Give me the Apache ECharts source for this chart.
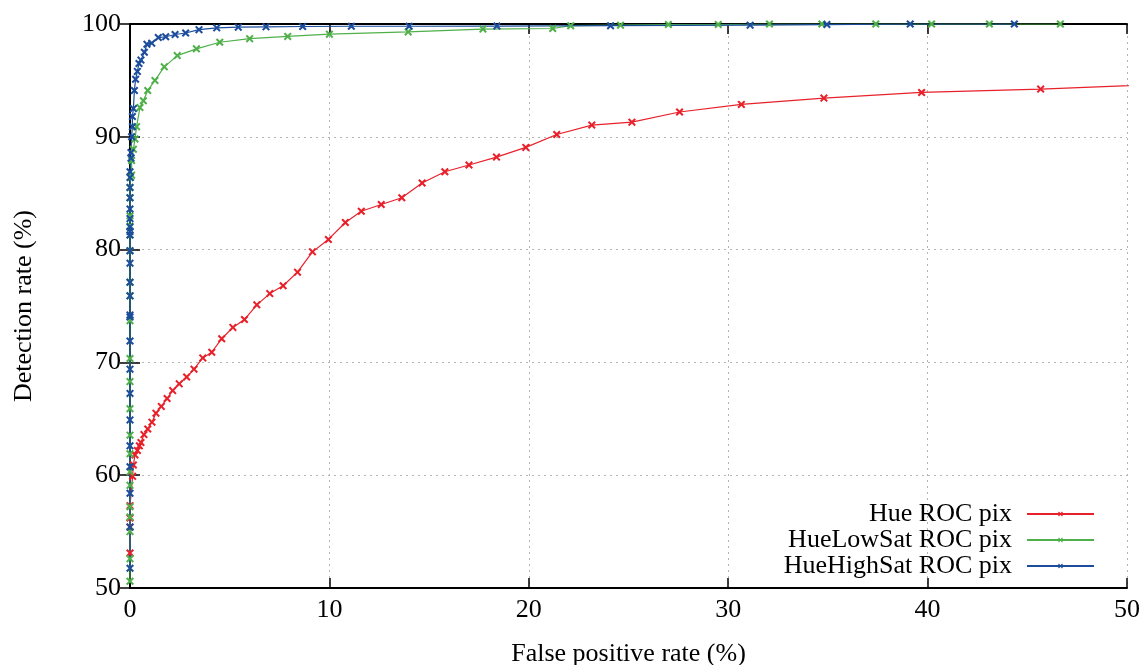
<!DOCTYPE html>
<html>
<head>
<meta charset="utf-8">
<script src="https://cdn.jsdelivr.net/npm/echarts@6/dist/echarts.min.js"></script>
<style>html,body{margin:0;padding:0;background:#fff}#c{width:1145px;height:665px}</style>
</head>
<body>
<div id="c"></div>
<script>
// Data: [false positive rate (%), detection rate (%)]
const seriesNames = ['Hue ROC pix', 'HueLowSat ROC pix', 'HueHighSat ROC pix'];
const xTicks = [0, 10, 20, 30, 40, 50];
const yTicks = [50, 60, 70, 80, 90, 100];

const hue = [
  [0,53.1],[0,55.4],[0,56.2],[0,57.3],[0.13,59.9],[0.17,60.9],[0.25,61.8],[0.37,62.2],[0.47,62.6],
  [0.55,62.9],[0.7,63.6],[0.89,64.1],[1.1,64.7],[1.3,65.5],[1.57,66.1],[1.86,66.8],[2.14,67.5],
  [2.47,68.1],[2.84,68.7],[3.21,69.4],[3.65,70.4],[4.1,70.9],[4.6,72.1],[5.16,73.1],[5.74,73.8],
  [6.36,75.1],[7.01,76.1],[7.68,76.8],[8.4,78.0],[9.15,79.8],[9.95,80.9],[10.8,82.4],[11.6,83.4],
  [12.6,84.0],[13.63,84.6],[14.65,85.9],[15.79,86.9],[17.0,87.5],[18.38,88.2],[19.85,89.06],
  [21.4,90.2],[23.16,91.04],[25.17,91.3],[27.56,92.2],[30.66,92.87],[34.8,93.43],[39.7,93.93],
  [45.67,94.23],[56,94.95]
];

const hueLowSat = [
  [0,50.6],[0,52.6],[0,55.0],[0,56.3],[0,57.2],[0,59.1],[0,60.3],[0,61.9],[0,63.55],[0,65.9],
  [0,68.3],[0,70.35],[0,73.7],[0,75.9],[0,77.1],[0,79.9],[0,81.3],[0,82.1],[0,83.0],[0,84.6],
  [0,85.5],[0.03,86.4],[0.08,86.6],[0.08,87.9],[0.17,88.9],[0.25,89.8],[0.33,90.9],[0.5,92.6],
  [0.67,93.2],[0.89,94.1],[1.25,95.0],[1.72,96.2],[2.37,97.2],[3.33,97.8],[4.5,98.38],[6.0,98.7],
  [7.91,98.9],[10.0,99.1],[13.95,99.3],[17.7,99.55],[21.2,99.6],[22.1,99.85],[24.6,99.9],
  [27.0,99.95],[29.5,99.95],[32.07,100],[34.7,100],[37.4,100],[40.2,100],[43.1,100],[46.66,100]
];

const hueHighSat = [
  [0,51.75],[0,55.4],[0,58.4],[0,60.75],[0,62.6],[0,64.9],[0,67.25],[0,69.4],[0,71.9],[0,74.03],
  [0,74.2],[0,75.9],[0,77.1],[0,78.8],[0,79.9],[0,81.3],[0,81.6],[0,82.0],[0,82.75],[0,83.6],
  [0,84.6],[0,85.5],[0,86.4],[0,86.9],[0.05,88.1],[0.05,88.6],[0.08,90.0],[0.12,90.9],[0.12,91.8],
  [0.17,92.5],[0.22,94.1],[0.28,95.1],[0.37,95.8],[0.45,96.5],[0.55,96.8],[0.72,97.5],[0.85,98.2],
  [1.09,98.3],[1.42,98.8],[1.79,98.87],[2.26,99.07],[2.79,99.2],[3.46,99.5],[4.35,99.66],
  [5.43,99.72],[6.82,99.75],[8.66,99.78],[11.1,99.8],[14.0,99.8],[18.4,99.82],[24.1,99.85],
  [31.1,99.9],[34.95,99.95],[39.13,100],[44.35,100]
];

const colors = ['#e8202a', '#4fb04a', '#1c4d9c'];
const FONT = '"Liberation Serif", "Times New Roman", "DejaVu Serif", serif';
const XSYM = 'path://M0,1.8L1.8,0L5,3.2L8.2,0L10,1.8L6.8,5L10,8.2L8.2,10L5,6.8L1.8,10L0,8.2L3.2,5Z';

const chart = echarts.init(document.getElementById('c'), null, {renderer: 'canvas'});

const axisLine = {show: true, lineStyle: {color: '#000', width: 2}};
const tick = {show: true, inside: true, length: 10, lineStyle: {color: '#000', width: 1.5}};

function mkSeries(name, data, color) {
  return {
    name: name, type: 'line', data: data, xAxisIndex: 0, yAxisIndex: 0,
    symbol: XSYM, symbolSize: 8, showSymbol: true, clip: true,
    lineStyle: {color: color, width: 1.2},
    itemStyle: {color: color},
    animation: false, z: 3
  };
}

function mkLegend(name, top) {
  return {
    data: [name], right: 50, top: top, orient: 'horizontal', align: 'right',
    padding: 0, itemWidth: 67, itemHeight: 6, itemGap: 0,
    textStyle: {fontFamily: FONT, fontSize: 26, color: '#000', lineHeight: 26, padding: [0, 10, 0, 0]}
  };
}

chart.setOption({
  animation: false,
  backgroundColor: '#fff',
  color: colors,
  grid: {left: 130, right: 18, top: 24, bottom: 77, show: false, containLabel: false, outerBoundsMode: 'none'},
  legend: [mkLegend(seriesNames[0], 501), mkLegend(seriesNames[1], 527), mkLegend(seriesNames[2], 553)],
  xAxis: [
    {
      type: 'value', min: xTicks[0], max: xTicks[xTicks.length - 1], interval: 10, position: 'bottom',
      name: 'False positive rate (%)', nameLocation: 'middle', nameGap: 53,
      nameTextStyle: {fontFamily: FONT, fontSize: 26, color: '#000'},
      axisLine: axisLine, axisTick: tick,
      axisLabel: {fontFamily: FONT, fontSize: 26, color: '#000', margin: 9},
      splitLine: {show: true, lineStyle: {color: '#b4b4b4', type: [2, 4], width: 1}}
    },
    {
      type: 'value', min: xTicks[0], max: xTicks[xTicks.length - 1], interval: 10, position: 'top',
      axisLine: axisLine, axisTick: tick, axisLabel: {show: false}, splitLine: {show: false}
    }
  ],
  yAxis: [
    {
      type: 'value', min: yTicks[0], max: yTicks[yTicks.length - 1], interval: 10, position: 'left',
      name: 'Detection rate (%)', nameLocation: 'middle', nameGap: 93, nameRotate: 90,
      nameTextStyle: {fontFamily: FONT, fontSize: 26, color: '#000'},
      axisLine: axisLine, axisTick: tick,
      axisLabel: {fontFamily: FONT, fontSize: 26, color: '#000', margin: 9},
      splitLine: {show: true, lineStyle: {color: '#b4b4b4', type: [2, 4], width: 1}}
    },
    {
      type: 'value', min: yTicks[0], max: yTicks[yTicks.length - 1], interval: 10, position: 'right',
      axisLine: axisLine, axisTick: tick, axisLabel: {show: false}, splitLine: {show: false}
    }
  ],
  series: [
    mkSeries(seriesNames[0], hue, colors[0]),
    mkSeries(seriesNames[1], hueLowSat, colors[1]),
    mkSeries(seriesNames[2], hueHighSat, colors[2])
  ]
});
</script>
</body>
</html>
